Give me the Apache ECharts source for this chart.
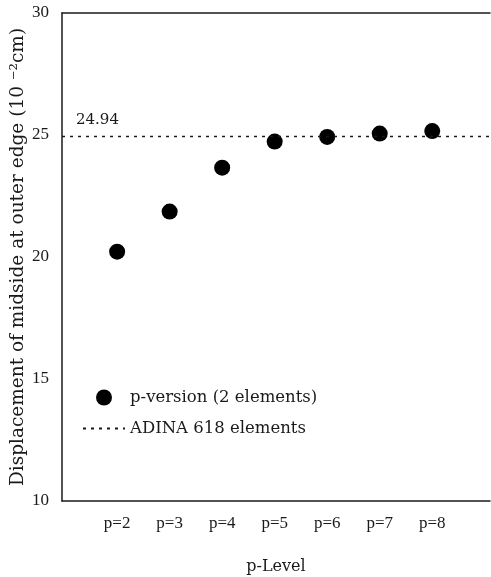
<!DOCTYPE html>
<html>
<head>
<meta charset="utf-8">
<script src="https://cdn.jsdelivr.net/npm/echarts@6/dist/echarts.min.js"></script>
<style>
  html, body { margin: 0; padding: 0; background: #fff; }
  #chart { width: 491px; height: 577px; }
</style>
</head>
<body>
<div id="chart"></div>
<script>
// p-levels and midside displacement (10^-2 cm)
var pLevels = [2, 3, 4, 5, 6, 7, 8];
var pVersion = [20.22, 21.86, 23.66, 24.73, 24.92, 25.06, 25.16];
var adinaValue = 24.94;
var adinaSpan = [0.95, 9.1];

var serif = '"Liberation Serif", "DejaVu Serif", serif';
var wide = '"DejaVu Serif", serif';
var ink = '#1a1a1a';

var chart = echarts.init(document.getElementById('chart'));

var option = {
  backgroundColor: '#fff',
  animation: false,
  grid: { left: 62, right: 1, top: 13, bottom: 76, outerBoundsMode: 'none', containLabel: false },
  legend: {
    orient: 'vertical',
    left: 82,
    top: 389,
    padding: 0,
    itemWidth: 42,
    itemHeight: 16,
    itemGap: 14,
    textStyle: { fontFamily: wide, fontSize: 16.5, color: ink },
    data: [
      { name: 'p-version (2 elements)', icon: 'circle' },
      { name: 'ADINA 618 elements', itemStyle: { opacity: 0 } }
    ]
  },
  xAxis: [{
    type: 'value',
    min: 0.95,
    max: 9.1,
    name: 'p-Level',
    nameLocation: 'middle',
    nameGap: 58,
    nameMoveOverlap: false,
    nameTextStyle: { fontFamily: wide, fontSize: 16, color: ink },
    axisLine: { show: true, lineStyle: { color: ink, width: 1.5 } },
    axisTick: { show: false },
    splitLine: { show: false },
    axisLabel: {
      margin: 14,
      fontFamily: serif, fontSize: 17, color: ink,
      customValues: pLevels,
      formatter: function (v) { return 'p=' + v; }
    }
  }, {
    type: 'value',
    position: 'top',
    min: 0.95,
    max: 9.1,
    axisLine: { show: true, lineStyle: { color: ink, width: 1.5 } },
    axisTick: { show: false },
    axisLabel: { show: false },
    splitLine: { show: false }
  }],
  yAxis: {
    type: 'value',
    min: 10,
    max: 30,
    interval: 5,
    name: 'Displacement of midside at outer edge (10 \u207B\u00B2cm)',
    nameLocation: 'middle',
    nameGap: 34,
    nameMoveOverlap: false,
    nameTextStyle: { fontFamily: wide, fontSize: 18.5, color: ink },
    axisLine: { show: true, lineStyle: { color: ink, width: 1.5 } },
    axisTick: { show: false },
    splitLine: { show: false },
    axisLabel: { margin: 13, padding: [6, 0, 0, 0], fontFamily: serif, fontSize: 17, color: ink }
  },
  series: [{
    name: 'p-version (2 elements)',
    type: 'scatter',
    symbol: 'circle',
    symbolSize: 16,
    itemStyle: { color: '#000', opacity: 1 },
    data: pLevels.map(function (p, i) { return [p, pVersion[i]]; })
  }, {
    name: 'ADINA 618 elements',
    type: 'line',
    symbol: 'circle',
    symbolSize: 0,
    showSymbol: true,
    lineStyle: { color: ink, width: 1.5, type: [3, 5] },
    itemStyle: { color: ink },
    data: adinaSpan.map(function (x, i) {
      return {
        value: [x, adinaValue],
        label: {
          show: i === 0,
          position: [14, -24],
          formatter: String(adinaValue),
          fontFamily: wide, fontSize: 15, color: ink
        }
      };
    })
  }]
};

chart.setOption(option);
</script>
</body>
</html>
